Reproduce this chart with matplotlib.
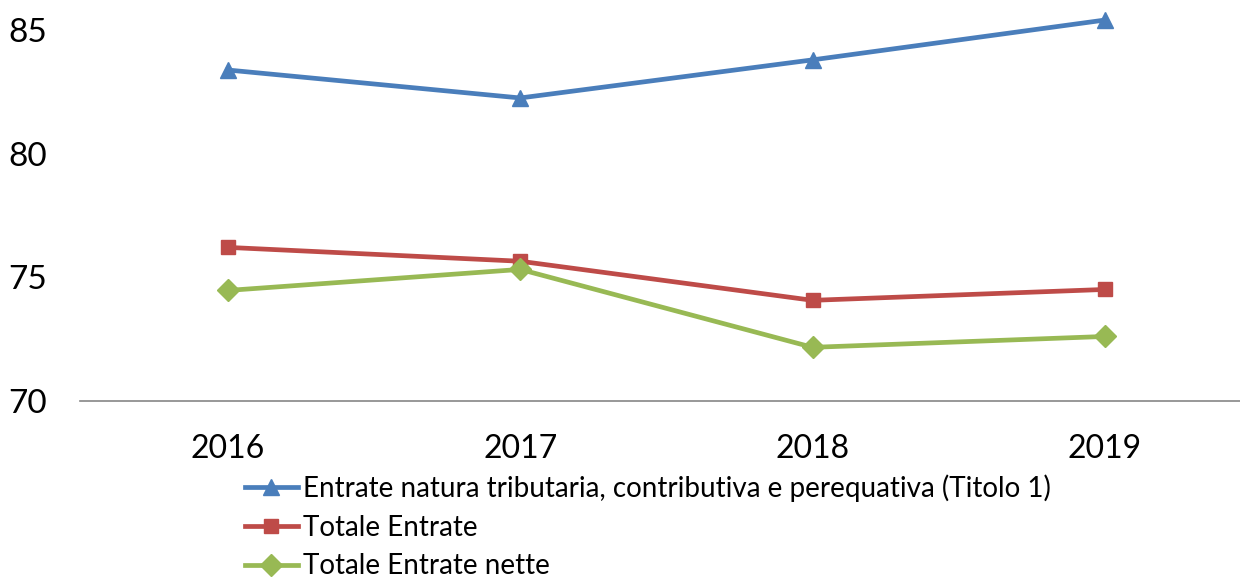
import matplotlib
matplotlib.use("Agg")
import matplotlib.pyplot as plt

years = ["2016", "2017", "2018", "2019"]
titolo1 = [83.38, 82.25, 83.79, 85.40]
totale_entrate = [76.21, 75.65, 74.07, 74.51]
totale_nette = [74.47, 75.32, 72.17, 72.61]
labels = ["Entrate natura tributaria, contributiva e perequativa (Titolo 1)",
          "Totale Entrate", "Totale Entrate nette"]
colors = ["#4A7EBB", "#BE4B48", "#98B954"]
markers = ["^", "s", "D"]
msizes = [12, 10.5, 11.5]

plt.rcParams['font.family'] = ['Lato', 'DejaVu Sans']

fig = plt.figure(figsize=(12.4, 5.79), dpi=100)
ax = fig.add_axes([0.0645, 0.3074, 0.9355, 0.6926])
x = list(range(len(years)))
for vals, c, m, ms, lab in zip([titolo1, totale_entrate, totale_nette], colors, markers, msizes, labels):
    ax.plot(x, vals, color=c, lw=3.4, marker=m, ms=ms, label=lab, clip_on=False)

ax.set_xlim(-0.506, 3.462)
ax.set_ylim(70, 86.21)
ax.set_yticks([70, 75, 80, 85])
ax.set_xticks(x)
ax.set_xticklabels(years)
for s in ["top", "right", "left"]:
    ax.spines[s].set_visible(False)
ax.spines["bottom"].set_color("#868686")
ax.spines["bottom"].set_linewidth(1.2)
ax.tick_params(axis="both", length=0, colors="black")
ax.tick_params(axis="x", labelsize=23, pad=24)
ax.tick_params(axis="y", labelsize=24, pad=24)

leg = fig.legend(loc="upper left", bbox_to_anchor=(0.1976, 0.181), frameon=False,
                 fontsize=20, handlelength=1.9, handletextpad=0.18, labelspacing=0.46,
                 borderaxespad=0, borderpad=0)
fig.savefig("out.png", dpi=100)
